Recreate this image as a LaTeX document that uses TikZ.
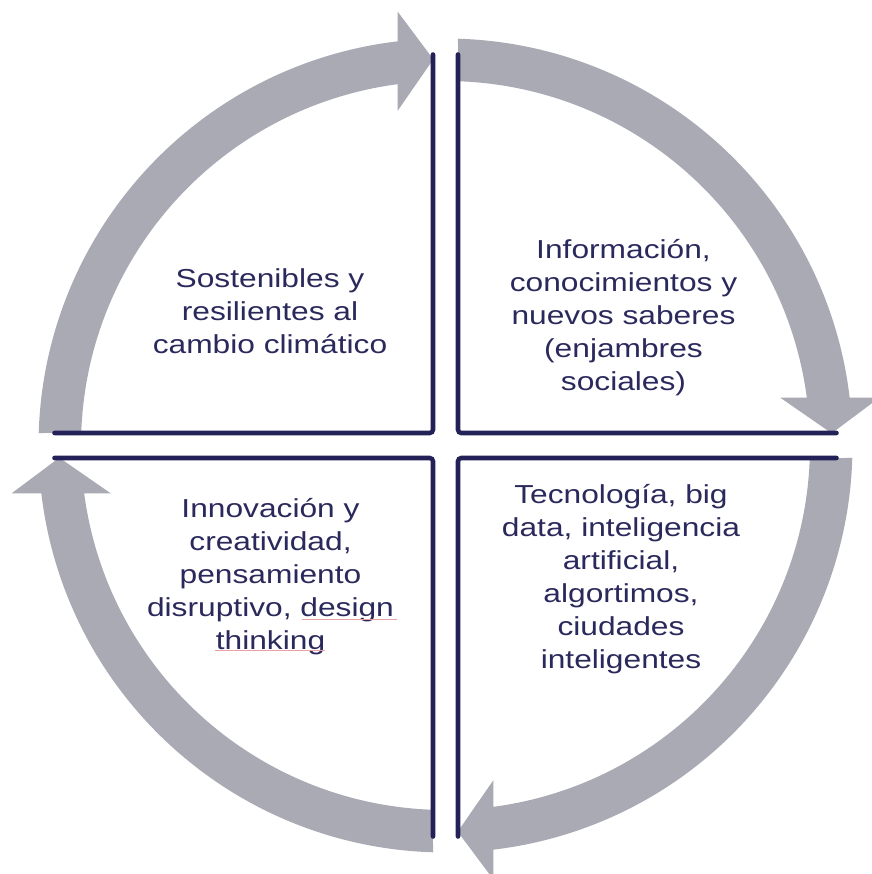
\documentclass[tikz,border=0pt]{standalone}
\usepackage{fontspec}
\setmainfont[FakeStretch=1.22]{Liberation Sans}
\definecolor{cyclegray}{RGB}{169,170,180}
\definecolor{framenavy}{RGB}{35,33,88}
\definecolor{labelnavy}{RGB}{42,41,92}
\definecolor{spellpink}{RGB}{235,160,165}
\begin{document}
\begin{tikzpicture}[x=0.75pt,y=0.75pt,
  cyclearrow/.style={fill=cyclegray,draw=none},
  quadframe/.style={draw=framenavy,line width=3.4pt,rounded corners=2.5pt,line cap=round},
  quadlabel/.style={text=labelnavy,align=center,inner sep=0pt,anchor=base,
    font=\fontsize{19.5pt}{24.75pt}\selectfont}]
  \useasboundingbox (-445.5,-428.5) rectangle (425.5,445.5);

  % four circular arrows, one per quarter, running clockwise
  \foreach \r in {0,-90,-180,-270}{
    \begin{scope}[rotate=\r]
      \path[cyclearrow] (178.24:407) arc[start angle=178.24,end angle=96.74,radius=407]
        -- (-47.8,433.8) -- (-12.2,386.2) -- (-47.8,334.8)
        -- (97.53:364.5) arc[start angle=97.53,end angle=178.03,radius=364.5] -- cycle;
    \end{scope}
  }

  % L-shaped frames of the four quadrants
  \draw[quadframe] (-12.5,391) -- (-12.5,12.5) -- (-391,12.5);
  \draw[quadframe] (12.5,391) -- (12.5,12.5) -- (391,12.5);
  \draw[quadframe] (-391,-12.5) -- (-12.5,-12.5) -- (-12.5,-391);
  \draw[quadframe] (391,-12.5) -- (12.5,-12.5) -- (12.5,-391);

  % quadrant texts (anchored at the baseline of their last line)
  \node[quadlabel] (tl) at (-175.5,91.5) {Sostenibles y\\resilientes al\\cambio climático};
  \node[quadlabel] (tr) at (178,54.5) {Información,\\conocimientos y\\nuevos saberes\\(enjambres\\sociales)};
  \node[quadlabel] (br) at (175.5,-222.5) {Tecnología, big\\data, inteligencia\\artificial,\\algortimos,\\ciudades\\inteligentes};
  \node[quadlabel] (bl) at (-175,-203.5) {Innovación y\\creatividad,\\pensamiento\\disruptivo, design\\thinking};

  % spell-check marks under two words
  \draw[spellpink,line width=0.6pt] (-143.5,-173.5) -- (-48.5,-173.5);
  \draw[spellpink,line width=0.6pt] (-230.5,-205.2) -- (-120.5,-205.2);
\end{tikzpicture}
\end{document}
